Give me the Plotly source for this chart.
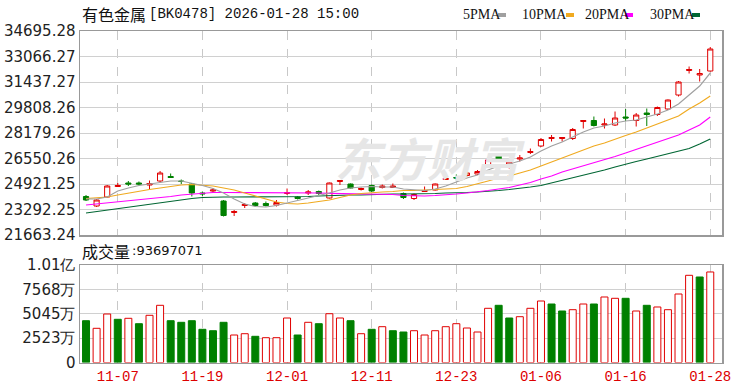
import plotly.graph_objects as go

dates = ["2025-11-04","2025-11-05","2025-11-06","2025-11-07","2025-11-10","2025-11-11","2025-11-12","2025-11-13","2025-11-14",
         "2025-11-17","2025-11-18","2025-11-19","2025-11-20","2025-11-21","2025-11-24","2025-11-25","2025-11-26","2025-11-27",
         "2025-11-28","2025-12-01","2025-12-02","2025-12-03","2025-12-04","2025-12-05","2025-12-08","2025-12-09","2025-12-10",
         "2025-12-11","2025-12-12","2025-12-15","2025-12-16","2025-12-17","2025-12-18","2025-12-19","2025-12-22","2025-12-23",
         "2025-12-24","2025-12-25","2025-12-26","2025-12-29","2025-12-30","2025-12-31","2026-01-05","2026-01-06","2026-01-07",
         "2026-01-08","2026-01-09","2026-01-12","2026-01-13","2026-01-14","2026-01-15","2026-01-16","2026-01-19","2026-01-20",
         "2026-01-21","2026-01-22","2026-01-23","2026-01-26","2026-01-27","2026-01-28"]

open_ = [24123,23516,24091,24761,24985,24985,24857,25113,25400,25113,24921,24346,24474,23835,23100,23548,23707,23675,
         23580,24314,24091,24346,24442,24027,25081,24921,24570,24825,24697,24697,24314,23995,24442,24538,25209,25336,
         25464,25560,26103,26710,25975,26518,26933,27349,27828,27828,27828,28914,28978,28690,28690,29201,28978,29457,
         29361,29712,30606,32172,31884,32140]
high = [24218,23963,24857,24985,25113,25081,25145,25752,25592,25209,24985,24442,24666,23899,23260,23707,23771,23803,
        23899,24634,24155,24538,24506,25017,25176,24953,24697,24889,24889,24953,24378,24314,24761,24953,25400,25528,
        25720,25815,26646,26837,26390,26774,27189,27860,28051,27924,28498,29009,29233,29105,29552,29712,29457,29744,
        29872,30319,31501,32427,32268,33673]
low = [23835,23452,24059,24729,24793,24825,24538,25049,25336,24921,24123,24155,24346,22845,22877,23388,23484,23484,
       23484,24218,23931,24218,24218,23995,24857,24634,24506,24410,24634,24666,23963,23899,24410,24506,25176,25145,
       25400,25496,26039,26454,25911,26358,26837,27285,27636,27636,27732,28466,28594,28466,28626,28946,28594,28626,
       29265,29648,30511,31980,31469,32108]
close = [23899,23899,24793,24825,24921,24921,24953,25624,25336,25081,24346,24295,24538,22909,23164,23612,23548,23548,
         23739,24378,23995,24410,24314,24985,25145,24666,24634,24474,24793,24793,24059,24250,24506,24921,25272,25304,
         25624,25720,26454,26486,26326,26582,26997,27764,27892,27892,28403,28978,28658,28754,29137,29137,29329,29361,
         29808,30287,31437,32236,31980,33545]

ma5 = [23963,23963,24091,24474,24666,24825,24921,25017,25113,25113,24985,24825,24634,24346,23963,23643,23484,23452,
       23548,23707,23835,24027,24155,24346,24538,24666,24729,24761,24729,24729,24602,24538,24506,24602,24793,25049,
       25304,25496,25815,26071,26199,26390,26646,27029,27349,27604,27923,28243,28498,28626,28818,28946,29009,29201,
       29393,29648,30032,30606,31181,32012]
ma10 = [23995,24027,24091,24218,24346,24474,24570,24666,24761,24857,24889,24857,24793,24666,24538,24346,24155,23963,
        23771,23675,23643,23707,23803,23899,24059,24218,24314,24378,24410,24442,24506,24506,24538,24538,24570,24634,
        24761,24921,25113,25304,25432,25624,25815,26071,26326,26614,26838,27093,27349,27540,27796,28019,28243,28498,
        28722,28978,29265,29712,30096,30543]
ma20 = [23580,23643,23707,23771,23835,23899,23995,24059,24123,24218,24282,24346,24378,24378,24378,24378,24346,24346,
        24346,24346,24346,24346,24346,24327,24314,24314,24282,24282,24282,24250,24186,24155,24155,24186,24218,24282,
        24346,24410,24506,24602,24698,24857,25017,25240,25432,25688,25879,26071,26263,26454,26678,26901,27125,27349,
        27604,27828,28051,28371,28690,29201]
ma30 = [23069,23164,23260,23356,23452,23548,23643,23739,23835,23931,23995,24059,24091,24091,24091,24091,24091,24091,
        24091,24091,24091,24123,24155,24186,24218,24218,24218,24250,24250,24282,24282,24282,24314,24314,24346,24346,
        24378,24410,24442,24506,24570,24634,24729,24825,24985,25176,25336,25496,25656,25815,26007,26199,26358,26518,
        26678,26838,26997,27189,27476,27796]

volume = [43260000,35400000,50200000,44700000,45750000,40160000,48850000,59200000,43260000,41600000,43260000,34360000,
          32900000,41600000,28460000,29800000,27120000,25670000,25670000,46060000,28460000,41600000,40160000,50500000,
          46060000,43260000,29800000,34360000,37050000,32900000,31570000,32900000,28460000,32900000,37050000,40160000,
          35710000,31570000,56100000,59200000,46060000,47400000,56100000,63650000,60550000,53300000,54650000,60550000,
          60550000,67800000,66450000,66450000,53300000,59200000,57450000,54650000,70900000,90250000,88500000,93697071]
vol_up = [0,1,1,0,1,0,1,1,0,0,0,0,0,0,1,1,0,1,1,1,0,1,0,1,1,0,1,0,1,0,0,1,1,1,1,1,1,1,1,0,0,1,1,1,0,0,1,1,0,1,1,0,1,0,
          1,1,1,1,0,1]

price_ticks = [21663.24,23292.25,24921.25,26550.26,28179.26,29808.26,31437.27,33066.27,34695.28]
vol_ticks = [0,25227500,50455000,75682500,100910000]
vol_tick_text = ["0","2523万","5045万","7568万","1.01亿"]
label_dates = ["2025-11-07","2025-11-19","2025-12-01","2025-12-11","2025-12-23","2026-01-06","2026-01-16","2026-01-28"]
label_text = ["11-07","11-19","12-01","12-11","12-23","01-06","01-16","01-28"]

RED = "#e00000"
GREEN = "#008000"
C5, C10, C20, C30 = "#a0a0a0", "#f0aa20", "#ff00ff", "#006633"

fig = go.Figure()
fig.add_trace(go.Candlestick(x=dates, open=open_, high=high, low=low, close=close,
                             increasing=dict(line=dict(color=RED, width=1), fillcolor="white"),
                             decreasing=dict(line=dict(color=GREEN, width=1), fillcolor=GREEN),
                             xaxis="x", yaxis="y", showlegend=False, hoverinfo="skip"))
for ma, col in [(ma30, C30), (ma20, C20), (ma10, C10), (ma5, C5)]:
    fig.add_trace(go.Scatter(x=dates, y=ma, mode="lines", line=dict(color=col, width=1.2),
                             xaxis="x", yaxis="y", showlegend=False, hoverinfo="skip"))

fig.add_trace(go.Bar(x=dates, y=volume, width=0.66,
                     marker=dict(color=["white" if u else GREEN for u in vol_up],
                                 line=dict(color=[RED if u else GREEN for u in vol_up], width=1)),
                     xaxis="x2", yaxis="y2", showlegend=False, hoverinfo="skip"))

xr = [-0.57, 60.11]
dom_x = [80/750, 722/750]
grid = "#d0d0d0"
frame = "#999999"
tickfont = dict(family="DejaVu Sans", size=15, color="#222")
common_x = dict(type="category", range=xr, domain=dom_x, tickmode="array", tickvals=label_dates,
                showgrid=True, gridcolor="#c8c8c8", griddash="dash", gridwidth=1, showline=True, mirror=True,
                linecolor=frame, linewidth=1.5, ticks="", zeroline=False, fixedrange=True, automargin=False)
fig.update_layout(
    width=750, height=391, margin=dict(l=0, r=0, t=0, b=0, autoexpand=False),
    paper_bgcolor="white", plot_bgcolor="white", dragmode=False,
    xaxis=dict(**common_x, anchor="y", showticklabels=False, rangeslider=dict(visible=False)),
    xaxis2=dict(**common_x, anchor="y2", ticktext=label_text, showticklabels=True,
                tickfont=dict(family="Liberation Mono", size=14, color="#dd0000")),
    yaxis=dict(domain=[(391-235)/391, (391-31)/391], range=[price_ticks[0], price_ticks[-1]],
               tickmode="array", tickvals=price_ticks, ticktext=[f"{v:.2f}" for v in price_ticks],
               showgrid=True, gridcolor=grid, showline=True, mirror=True, linecolor=frame, linewidth=1.5,
               ticks="", zeroline=False, tickfont=tickfont, anchor="x", fixedrange=True, automargin=False),
    yaxis2=dict(domain=[(391-362.5)/391, (391-265)/391], range=[0, vol_ticks[-1]],
                tickmode="array", tickvals=vol_ticks, ticktext=vol_tick_text,
                showgrid=True, gridcolor=grid, showline=True, mirror=True, linecolor=frame, linewidth=1.5,
                ticks="", zeroline=False, tickfont=tickfont, anchor="x2", fixedrange=True, automargin=False),
)

# watermark
fig.add_annotation(x=430/750, y=1-122/391, xref="paper", yref="paper", text="<b><i>东方财富</i></b>",
                   showarrow=False, font=dict(family="Noto Sans CJK SC", size=46, color="#e6e6e6"))

# header
fig.add_annotation(x=80/750, y=1-14/391, xref="paper", yref="paper", xanchor="left", yanchor="middle",
                   text="有色金属", showarrow=False, font=dict(family="Noto Sans CJK SC", size=16, color="#111"))
fig.add_annotation(x=147/750, y=1-14/391, xref="paper", yref="paper", xanchor="left", yanchor="middle",
                   text="[BK0478] 2026-01-28 15:00", showarrow=False,
                   font=dict(family="Liberation Mono", size=14, color="#111"))
leg = [("5PMA", 461, 498, C5), ("10PMA", 520, 566, C10), ("20PMA", 583, 625, C20), ("30PMA", 648, 692, C30)]
for name, tx, sx, col in leg:
    fig.add_annotation(x=tx/750, y=1-15/391, xref="paper", yref="paper", xanchor="left", yanchor="middle",
                       text=name, showarrow=False, font=dict(family="Liberation Serif", size=14, color="#111"))
    fig.add_shape(type="rect", xref="paper", yref="paper", x0=sx/750, x1=(sx+8)/750,
                  y0=1-17/391, y1=1-13/391, fillcolor=col, line=dict(width=0))

fig.add_annotation(x=80/750, y=1-251/391, xref="paper", yref="paper", xanchor="left", yanchor="middle",
                   text="成交量", showarrow=False, font=dict(family="Noto Sans CJK SC", size=16, color="#111"))
fig.add_annotation(x=130/750, y=1-251/391, xref="paper", yref="paper", xanchor="left", yanchor="middle",
                   text=":93697071", showarrow=False, font=dict(family="DejaVu Sans", size=13, color="#111"))

fig.write_html("out.html", config={"displayModeBar": False, "staticPlot": True},
               post_script="document.body.style.margin='0';document.body.style.overflow='hidden';")
